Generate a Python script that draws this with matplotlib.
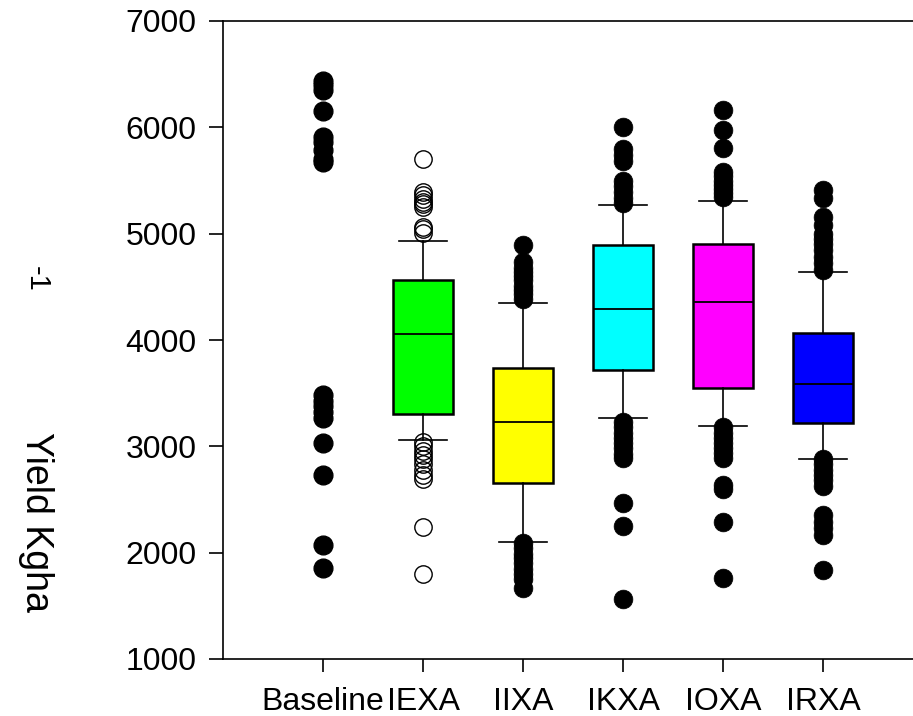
import matplotlib
matplotlib.use("Agg")
import matplotlib.pyplot as plt
import numpy as np

plt.rcParams['font.family'] = ['Liberation Sans', 'DejaVu Sans']

categories = ["Baseline", "IEXA", "IIXA", "IKXA", "IOXA", "IRXA"]

# Baseline run: individual yields only (no box)
baseline_yield = [6440, 6400, 6350, 6150, 5910, 5860, 5790, 5700, 5670,
                  3480, 3430, 3380, 3320, 3270, 3030, 2730, 2070, 1860]

# Box summaries for the scenarios: q1, median, q3, lower/upper whisker
scenarios = ["IEXA", "IIXA", "IKXA", "IOXA", "IRXA"]
q1 = [3304, 2658, 3718, 3552, 3217]
median = [4056, 3230, 4289, 4361, 3583]
q3 = [4560, 3740, 4893, 4903, 4069]
whisker_low = [3055, 2103, 3264, 3194, 2878]
whisker_high = [4935, 4350, 5270, 5307, 4637]

outliers_iexa = [5700, 5390, 5360, 5330, 5300, 5280, 5250, 5060, 5040, 5010,
                 3040, 3000, 2960, 2920, 2880, 2830, 2780, 2730, 2690, 2240, 1800]
outliers_iixa = [4895, 4730, 4680, 4640, 4600, 4560, 4510, 4470, 4430, 4390,
                 2090, 2040, 1990, 1950, 1900, 1850, 1800, 1750, 1668]
outliers_ikxa = [6003, 5800, 5740, 5680, 5500, 5450, 5390, 5340, 5290,
                 3229, 3180, 3130, 3080, 3030, 2980, 2930, 2890, 2464, 2254, 1564]
outliers_ioxa = [6163, 5975, 5803, 5580, 5540, 5500, 5460, 5420, 5380, 5345,
                 3182, 3130, 3080, 3030, 2980, 2940, 2890, 2640, 2600, 2291, 1759]
outliers_irxa = [5411, 5338, 5160, 5082, 5000, 4950, 4900, 4850, 4780, 4720, 4660,
                 2880, 2830, 2780, 2730, 2680, 2627, 2354, 2290, 2230, 2166, 1837]
outliers = [outliers_iexa, outliers_iixa, outliers_ikxa, outliers_ioxa, outliers_irxa]

box_colors = ["#00ff00", "#ffff00", "#00ffff", "#ff00ff", "#0000ff"]

y_ticks = [1000, 2000, 3000, 4000, 5000, 6000, 7000]

W, H = 913, 716
fig = plt.figure(figsize=(W / 100, H / 100), dpi=100)
ax = fig.add_axes([223 / W, (H - 659) / H, 700 / W, 638 / H])

positions = np.arange(1, len(categories) + 1)

# Baseline points
ax.plot(np.full(len(baseline_yield), positions[0]), baseline_yield, 'o',
        color='black', markersize=13.5, zorder=3)

stats = []
for i, name in enumerate(scenarios):
    stats.append(dict(label=name, q1=q1[i], med=median[i], q3=q3[i],
                      whislo=whisker_low[i], whishi=whisker_high[i],
                      fliers=outliers[i]))

for i, st in enumerate(stats):
    hollow = (i == 0)
    flier_props = dict(marker='o', markersize=13.5 if not hollow else 12.5,
                       markerfacecolor='none' if hollow else 'black',
                       markeredgecolor='black',
                       markeredgewidth=1.0 if hollow else 0.5,
                       linestyle='none')
    ax.bxp([st], positions=[positions[i + 1]], widths=0.6, capwidths=0.48,
           patch_artist=True, showfliers=True,
           boxprops=dict(facecolor=box_colors[i], edgecolor='black', linewidth=1.8),
           medianprops=dict(color='black', linewidth=1.3),
           whiskerprops=dict(color='black', linewidth=1.2),
           capprops=dict(color='black', linewidth=1.2),
           flierprops=flier_props, manage_ticks=False)

ax.set_xlim(0, 7)
ax.set_ylim(1000, 7000)
ax.set_xticks(positions)
ax.set_xticklabels(categories)
ax.set_yticks(y_ticks)
ax.set_yticklabels([str(v) for v in y_ticks])

ax.spines['right'].set_visible(False)
for side in ['left', 'top', 'bottom']:
    ax.spines[side].set_linewidth(1.2)

ax.tick_params(axis='y', direction='out', length=10, width=1.2, pad=9, labelsize=23)
ax.tick_params(axis='x', direction='out', length=9, width=1.2, pad=11, labelsize=23)

# Axis title drawn reading downward, with the unit exponent above it
fig.text(36 / W, 1 - 522 / H, "Yield Kgha", rotation=-90, ha='center', va='center',
         fontsize=27)
fig.text(37 / W, 1 - 279 / H, "-1", rotation=-90, ha='center', va='center',
         fontsize=21)

fig.savefig("out.png", dpi=100)
